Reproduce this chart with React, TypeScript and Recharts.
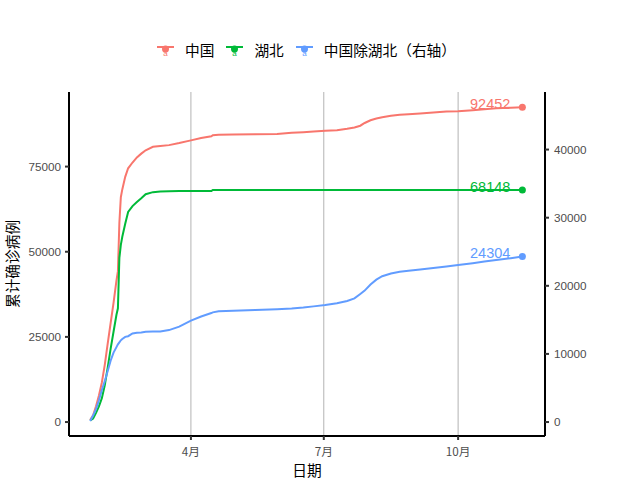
import React from 'react';
import { LineChart, Line, XAxis, YAxis, CartesianGrid } from 'recharts';

// 2020年天数（1月1日 = 0）
const days = [22, 24, 26, 28, 30, 32, 34, 36, 38, 40, 41, 42, 43, 44, 46, 48, 51, 54, 57, 60, 65, 70, 76, 83, 91, 98, 105, 106, 110, 120, 135, 150, 160, 168, 175, 183, 191, 198, 203, 207, 210, 214, 218, 222, 228, 234, 240, 248, 257, 266, 274, 284, 292, 300, 310, 318];

// 中国（左轴）
const china = [600, 2000, 4600, 7800, 11600, 16800, 23000, 29000, 35000, 41500, 44300, 58500, 66000, 68300, 72000, 74500, 76200, 77700, 78800, 79800, 80800, 81050, 81300, 81900, 82700, 83400, 83900, 84200, 84350, 84450, 84500, 84550, 84900, 85100, 85300, 85500, 85700, 86100, 86500, 87000, 87800, 88600, 89100, 89500, 89900, 90250, 90400, 90600, 90900, 91150, 91270, 91550, 91850, 92100, 92300, 92452];

// 湖北（左轴）
const hubei = [440, 1050, 2700, 4600, 7000, 10800, 16000, 21500, 26500, 31500, 33400, 48200, 52000, 54400, 58200, 61700, 63400, 64600, 65700, 66900, 67500, 67700, 67790, 67800, 67800, 67800, 67800, 68128, 68128, 68128, 68130, 68135, 68135, 68135, 68135, 68135, 68135, 68138, 68138, 68138, 68138, 68139, 68139, 68139, 68139, 68139, 68139, 68139, 68139, 68139, 68139, 68139, 68139, 68139, 68139, 68148];

// 中国除湖北（右轴）
const exHubei = [160, 950, 1900, 3200, 4700, 6000, 7500, 9000, 10200, 11000, 11400, 11700, 12000, 12200, 12500, 12600, 13000, 13100, 13150, 13250, 13300, 13300, 13500, 14000, 14900, 15500, 16000, 16100, 16250, 16350, 16450, 16550, 16650, 16800, 16980, 17180, 17430, 17780, 18150, 18800, 19300, 20200, 20900, 21400, 21800, 22050, 22200, 22400, 22620, 22850, 23060, 23320, 23550, 23780, 24050, 24304];

const xTicks = [91, 182, 274];
const xTickLabels = ['4月', '7月', '10月'];
const leftTicks = [0, 25000, 50000, 75000];
const rightTicks = [0, 10000, 20000, 30000, 40000];

const series = [
  { key: 'china', name: '中国', color: '#F8766D', axis: 'left' },
  { key: 'hubei', name: '湖北', color: '#00BA38', axis: 'left' },
  { key: 'exHubei', name: '中国除湖北（右轴）', color: '#619CFF', axis: 'right' },
];

const data = days.map((d, i) => ({ day: d, china: china[i], hubei: hubei[i], exHubei: exHubei[i] }));

const FONT = "'Liberation Sans', Arial, 'Noto Sans CJK SC', sans-serif";
const CJK = "'Noto Sans CJK SC', 'Liberation Sans', sans-serif";
const tickStyle = { fill: '#4d4d4d', fontSize: 11.7, fontFamily: FONT };

// 最后一个点：圆点 + 数值标签
const makeEndDot = (key: string, color: string) => (props: any) => {
  const { cx, cy, index, payload } = props;
  if (index !== days.length - 1) return <g key={`${key}-${index}`} />;
  return (
    <g key={`${key}-end`}>
      <circle cx={cx} cy={cy} r={3.5} fill={color} />
      <text x={cx - 12} y={cy + 2} textAnchor="end" fill={color} fontSize={14.5} fontFamily={FONT}>
        {payload[key]}
      </text>
    </g>
  );
};

const LegendIcon = ({ color }: { color: string }) => (
  <svg width={17} height={17} style={{ display: 'block' }}>
    <line x1={0} y1={5} x2={17} y2={5} stroke={color} strokeWidth={2} />
    <circle cx={8.5} cy={7} r={3.5} fill={color} />
    <text x={8.5} y={14} textAnchor="middle" fontSize={8} fill={color} fontFamily={FONT}>a</text>
  </svg>
);

export default function App() {
  return (
    <div style={{ position: 'absolute', left: 0, top: 0, width: 640, height: 480, background: '#fff' }}>
      {/* 图例 */}
      <div style={{ position: 'absolute', left: 157, top: 41, display: 'flex', alignItems: 'center', fontFamily: CJK, fontSize: 14.7, color: '#000' }}>
        {series.map((s, i) => (
          <div key={s.key} style={{ display: 'flex', alignItems: 'center', marginRight: i < series.length - 1 ? 12 : 0 }}>
            <LegendIcon color={s.color} />
            <span style={{ marginLeft: 11, lineHeight: '18px' }}>{s.name}</span>
          </div>
        ))}
      </div>

      <LineChart width={640} height={480} data={data} margin={{ top: 92, right: 35, bottom: 0, left: 9 }}>
        <CartesianGrid yAxisId="left" horizontal={false} stroke="#b3b3b3" strokeWidth={1} />
        <XAxis
          dataKey="day"
          type="number"
          domain={[7.5, 333.5]}
          ticks={xTicks}
          allowDataOverflow
          tickFormatter={(v: number) => xTickLabels[xTicks.indexOf(v)]}
          height={44}
          axisLine={{ stroke: '#000', strokeWidth: 2 }}
          tickLine={{ stroke: '#333', strokeWidth: 2 }}
          tickSize={4}
          tickMargin={8}
          tick={{ ...tickStyle, fontFamily: CJK }}
          label={{
            content: (p: any) => (
              <text x={p.viewBox.x + p.viewBox.width / 2} y={476} textAnchor="middle" fontSize={14.7} fontFamily={CJK} fill="#000">日期</text>
            ),
          }}
        />
        <YAxis
          yAxisId="left"
          domain={[-4100, 96900]}
          ticks={leftTicks}
          allowDataOverflow
          width={60}
          axisLine={{ stroke: '#000', strokeWidth: 2 }}
          tickLine={{ stroke: '#333', strokeWidth: 2 }}
          tickSize={4}
          tickMargin={4}
          tick={tickStyle}
          label={{
            content: (p: any) => {
              const cy = p.viewBox.y + p.viewBox.height / 2;
              return (
                <text x={18} y={cy} transform={`rotate(-90 18 ${cy})`} textAnchor="middle" fontSize={14.7} fontFamily={CJK} fill="#000">累计确诊病例</text>
              );
            },
          }}
        />
        <YAxis
          yAxisId="right"
          orientation="right"
          domain={[-2050, 48450]}
          ticks={rightTicks}
          allowDataOverflow
          width={60}
          axisLine={{ stroke: '#000', strokeWidth: 2 }}
          tickLine={{ stroke: '#333', strokeWidth: 2 }}
          tickSize={4}
          tickMargin={5}
          tick={tickStyle}
        />
        {series.map((s) => (
          <Line
            key={s.key}
            yAxisId={s.axis}
            type="linear"
            dataKey={s.key}
            name={s.name}
            stroke={s.color}
            strokeWidth={2}
            dot={makeEndDot(s.key, s.color)}
            activeDot={false}
            isAnimationActive={false}
          />
        ))}
      </LineChart>
    </div>
  );
}
